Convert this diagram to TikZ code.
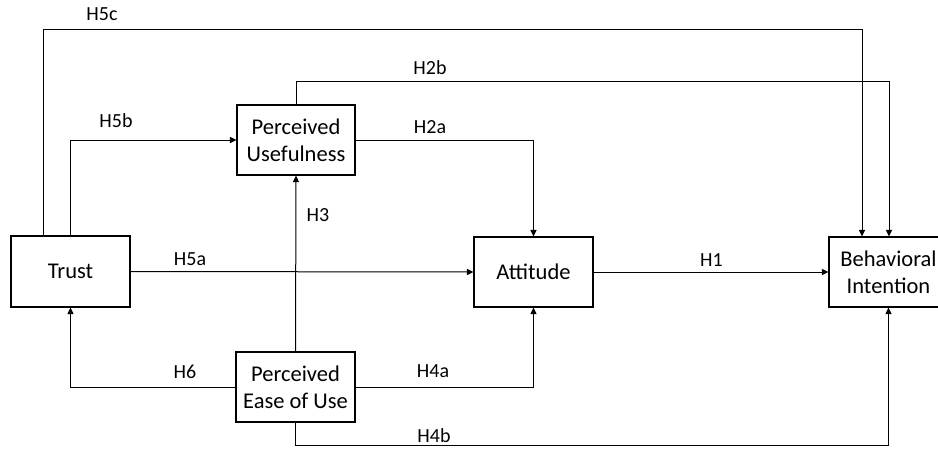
\documentclass[tikz,border=0pt]{standalone}
\usepackage{fontspec}
\setmainfont{Carlito}
\usetikzlibrary{arrows.meta}
\tikzset{
  box/.style={draw, line width=1.1pt, minimum width=119pt, minimum height=70pt, inner sep=0pt, align=center, font=\fontsize{22.5}{27}\selectfont},
  lbl/.style={inner sep=0pt, font=\fontsize{20}{22}\selectfont},
  arr/.style={line width=1pt, -{Triangle[length=6.5pt,width=6pt]}},
}
\begin{document}
\begin{tikzpicture}[x=1pt,y=-1pt]
\useasboundingbox (0,0) rectangle (938,448);
\clip (0,0) rectangle (938,448);
\node[box, minimum height=71pt] (trust) at (70.5,271.5) {Trust};
\node[box, minimum width=118pt] (pu) at (296,140) {Perceived\\Usefulness};
\node[box] (peou) at (295.5,387) {Perceived\\Ease of Use};
\node[box] (att) at (533.5,272) {Attitude};
\node[box] (bi) at (888.5,272) {Behavioral\\Intention};

\draw[arr] ([xshift=-27.5pt]trust.north) -- ++(0,-206) -| ([xshift=-26.5pt]bi.north);
\draw[arr] (pu.north) -- ++(0,-23) -| ([xshift=0.5pt]bi.north);
\draw[arr] (trust.north) |- (pu.west);
\draw[arr] (pu.east) -| (att.north);
\draw[arr] (peou.north) -- (pu.south);
\draw[arr] (trust.east) -- (att.west);
\draw[arr] (att.east) -- (bi.west);
\draw[arr] (peou.west) -| (trust.south);
\draw[arr] (peou.east) -| (att.south);
\draw[arr] (peou.south) -- ++(0,23) -| (bi.south);

\node[lbl] (h5c) at (102,14) {H5c};
\node[lbl] (h2b) at (430,68) {H2b};
\node[lbl] (h5b) at (116,121) {H5b};
\node[lbl] (h2a) at (430,127) {H2a};
\node[lbl] (h3) at (318,215) {H3};
\node[lbl] (h5a) at (190,259) {H5a};
\node[lbl] (h1) at (711.5,260) {H1};
\node[lbl] (h6) at (185,372) {H6};
\node[lbl] (h4a) at (433,371) {H4a};
\node[lbl] (h4b) at (434,436) {H4b};
\end{tikzpicture}
\end{document}
